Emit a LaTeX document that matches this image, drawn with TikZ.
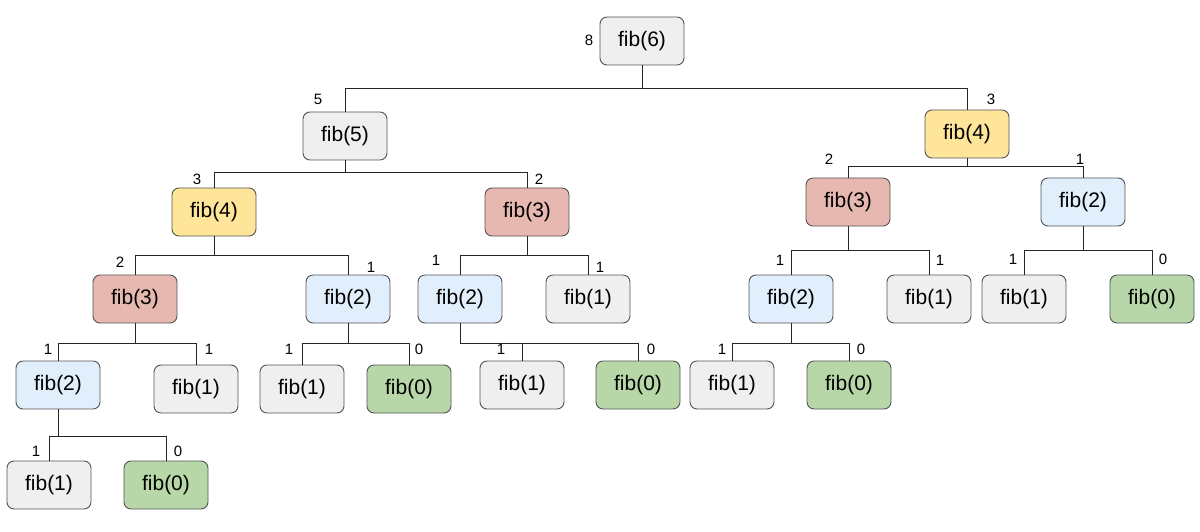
\documentclass[tikz,border=0pt]{standalone}
\usepackage{fontspec}
\setmainfont{Liberation Sans}
\definecolor{cg}{HTML}{EFEFEF}
\definecolor{cb}{HTML}{E1EEFC}
\definecolor{cgr}{HTML}{B7D7A8}
\definecolor{cr}{HTML}{E6B8AF}
\definecolor{cy}{HTML}{FFE599}
\definecolor{bd}{HTML}{555555}
\begin{document}
\begin{tikzpicture}[x=1pt,y=-1pt,
  fn/.style={draw=bd,line width=0.9pt,rounded corners=7pt,minimum width=84pt,minimum height=48pt,font=\fontsize{21}{23}\selectfont,inner sep=0pt},
  fgray/.style={fn,fill=cg},fblue/.style={fn,fill=cb},fgreen/.style={fn,fill=cgr},fred/.style={fn,fill=cr},fyel/.style={fn,fill=cy},
  lb/.style={font=\fontsize{15}{16}\selectfont,inner sep=0pt},
  ed/.style={draw=black!85,line width=0.8pt}]
\useasboundingbox (0,0) rectangle (1200,532);
\fill[white] (0,0) rectangle (1200,532);
\node[fgray] (n6) at (642,41) {fib(6)};
\node[fgray] (a5) at (345,136) {fib(5)};
\node[fyel] (b4) at (967,134) {fib(4)};
\node[fyel] (a4) at (214,212) {fib(4)};
\node[fred] (a3m) at (527,212) {fib(3)};
\node[fred] (b3) at (848,202) {fib(3)};
\node[fblue] (b2) at (1083,202) {fib(2)};
\node[fred] (a3) at (135,299) {fib(3)};
\node[fblue] (a2) at (348,299) {fib(2)};
\node[fblue] (m2) at (460,299) {fib(2)};
\node[fgray] (m1) at (588,299) {fib(1)};
\node[fblue] (r2) at (791,299) {fib(2)};
\node[fgray] (r1) at (929,299) {fib(1)};
\node[fgray] (s1) at (1024,299) {fib(1)};
\node[fgreen] (s0) at (1152,299) {fib(0)};
\node[fblue] (c2) at (58,385) {fib(2)};
\node[fgray] (c1) at (196,389) {fib(1)};
\node[fgray] (d1) at (302,389) {fib(1)};
\node[fgreen] (d0) at (409,389) {fib(0)};
\node[fgray] (e1) at (522,385) {fib(1)};
\node[fgreen] (e0) at (638,385) {fib(0)};
\node[fgray] (f1) at (732,385) {fib(1)};
\node[fgreen] (f0) at (849,385) {fib(0)};
\node[fgray] (h1) at (49,485) {fib(1)};
\node[fgreen] (h0) at (166,485) {fib(0)};
\newcommand\tr[4]{\draw[ed] (#1.south) -- (#1.south |- 0,#2) -| (#3.north); \draw[ed] (#1.south |- 0,#2) -| (#4.north);}
\tr{n6}{88}{a5}{b4}
\tr{a5}{172}{a4}{a3m}
\tr{b4}{166}{b3}{b2}
\tr{a4}{255}{a3}{a2}
\tr{a3m}{255}{m2}{m1}
\tr{b3}{250}{r2}{r1}
\tr{b2}{250}{s1}{s0}
\tr{a3}{343}{c2}{c1}
\tr{a2}{343}{d1}{d0}
\tr{m2}{343}{e1}{e0}
\tr{r2}{343}{f1}{f0}
\tr{c2}{436}{h1}{h0}
\node[lb] (l1) at (589,40) {8};
\node[lb] (l2) at (318,99) {5};
\node[lb] (l3) at (991,99) {3};
\node[lb] (l4) at (197,179) {3};
\node[lb] (l5) at (539,179) {2};
\node[lb] (l6) at (829,159) {2};
\node[lb] (l7) at (1080,159) {1};
\node[lb] (l8) at (120,262) {2};
\node[lb] (l9) at (371,267) {1};
\node[lb] (l10) at (436,260) {1};
\node[lb] (l11) at (600,267) {1};
\node[lb] (l12) at (780,260) {1};
\node[lb] (l13) at (940,260) {1};
\node[lb] (l14) at (1013,259) {1};
\node[lb] (l15) at (1163,259) {0};
\node[lb] (l16) at (48,349) {1};
\node[lb] (l17) at (209,349) {1};
\node[lb] (l18) at (289,349) {1};
\node[lb] (l19) at (419,349) {0};
\node[lb] (l20) at (501,349) {1};
\node[lb] (l21) at (651,349) {0};
\node[lb] (l22) at (722,349) {1};
\node[lb] (l23) at (861,349) {0};
\node[lb] (l24) at (36,451) {1};
\node[lb] (l25) at (178,451) {0};
\end{tikzpicture}
\end{document}
